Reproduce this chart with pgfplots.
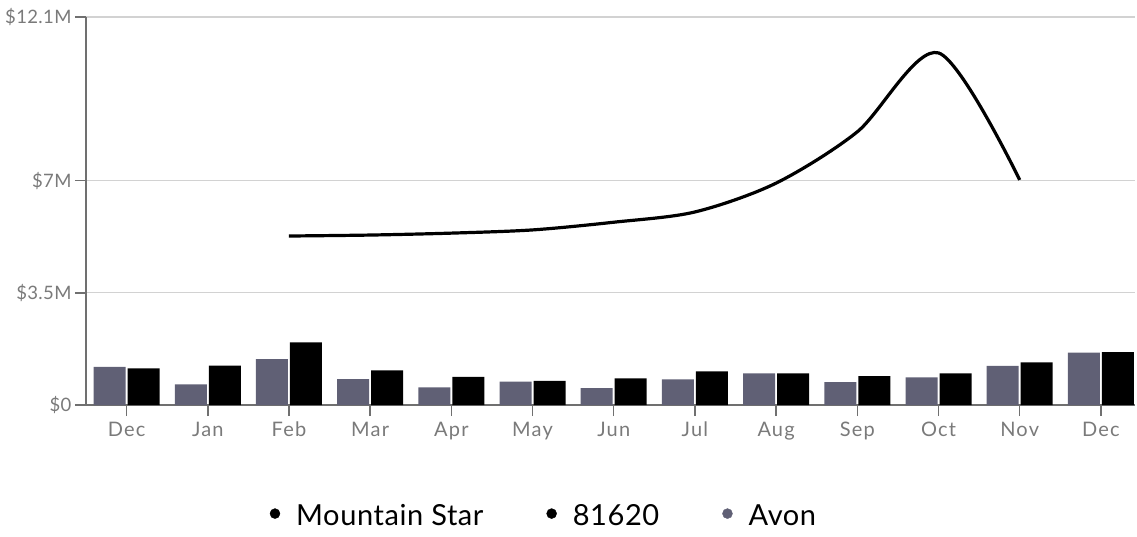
\documentclass[border=0pt]{standalone}
\usepackage{pgfplots}
\pgfplotsset{compat=1.18}
\usepackage{pgfplotstable}
\usepackage{fontspec}
\setmainfont{Lato}
\newfontfamily\tickfont{Lato}[LetterSpace=6]
\newfontfamily\ytickfont{Lato}[LetterSpace=2]
\newfontfamily\legfont{Lato}[LetterSpace=2]
\definecolor{avon}{HTML}{606075}
\definecolor{axisgray}{HTML}{707070}
\definecolor{gridgray}{HTML}{D2D2D2}
\definecolor{labelgray}{HTML}{7A7A7A}

\pgfplotstableread{
x avon zip
0 1.19 1.14
1 0.64 1.23
2 1.43 1.95
3 0.81 1.08
4 0.55 0.88
5 0.73 0.75
6 0.53 0.83
7 0.80 1.05
8 0.99 0.99
9 0.71 0.90
10 0.86 0.99
11 1.22 1.33
12 1.63 1.65
}\bars

\pgfplotstableread{
x star
2 5.27
3 5.30
4 5.36
5 5.46
6 5.70
7 6.02
8 6.92
9 8.52
10 10.98
11 7.02
}\star

\begin{document}
\begin{tikzpicture}
\begin{axis}[name=ax, scale only axis, width=1049pt, height=388pt,
  xmin=-0.5, xmax=12.42, ymin=0, ymax=12.1,
  axis x line=bottom, axis y line=left,
  axis line style={axisgray, line width=1.5pt, -},
  xtick={0,...,12},
  xticklabels={Dec,Jan,Feb,Mar,Apr,May,Jun,Jul,Aug,Sep,Oct,Nov,Dec},
  ytick={0,3.5,7,12.1},
  yticklabels={\$0,\$3.5M,\$7M,\$12.1M},
  tick style={axisgray, line width=1.5pt},
  major tick length=11pt,
  tick align=outside,
  ymajorgrids, grid style={gridgray, line width=1.2pt},
  ticklabel style={text=labelgray},
  xticklabel style={font=\tickfont\fontsize{20}{22}\selectfont, anchor=north, text height=15pt, text depth=4pt, inner sep=0pt, yshift=-5pt},
  yticklabel style={font=\ytickfont\fontsize{18.5}{20}\selectfont},
  /pgf/number format/assume math mode=true,
  legend columns=-1,
  legend style={at={(0.4356,-0.285)}, anchor=center, draw=none, fill=none,
    font=\legfont\fontsize{29}{32}\selectfont,
    /tikz/every odd column/.append style={column sep=16pt},
    /tikz/every even column/.append style={column sep=63pt},
    nodes={inner sep=0pt}},
  legend image code/.code={\fill[#1] (0pt,2pt) circle (5pt);},
]
\addplot[ybar, bar width=32pt, bar shift=-17pt, fill=avon, draw=none, forget plot] table[x=x, y=avon] {\bars};
\addplot[ybar, bar width=32pt, bar shift=17pt, fill=black, draw=none, forget plot] table[x=x, y=zip] {\bars};
\addplot[black, line width=3.2pt, smooth, tension=0.5, forget plot] table[x=x, y=star] {\star};
\addlegendimage{black}\addlegendentry{Mountain Star}
\addlegendimage{black}\addlegendentry{81620}
\addlegendimage{avon}\addlegendentry{Avon}
\end{axis}
\pgfresetboundingbox
\path (ax.south west) ++(-86pt,-131pt) rectangle ++(1137pt,536pt);
\end{tikzpicture}
\end{document}
